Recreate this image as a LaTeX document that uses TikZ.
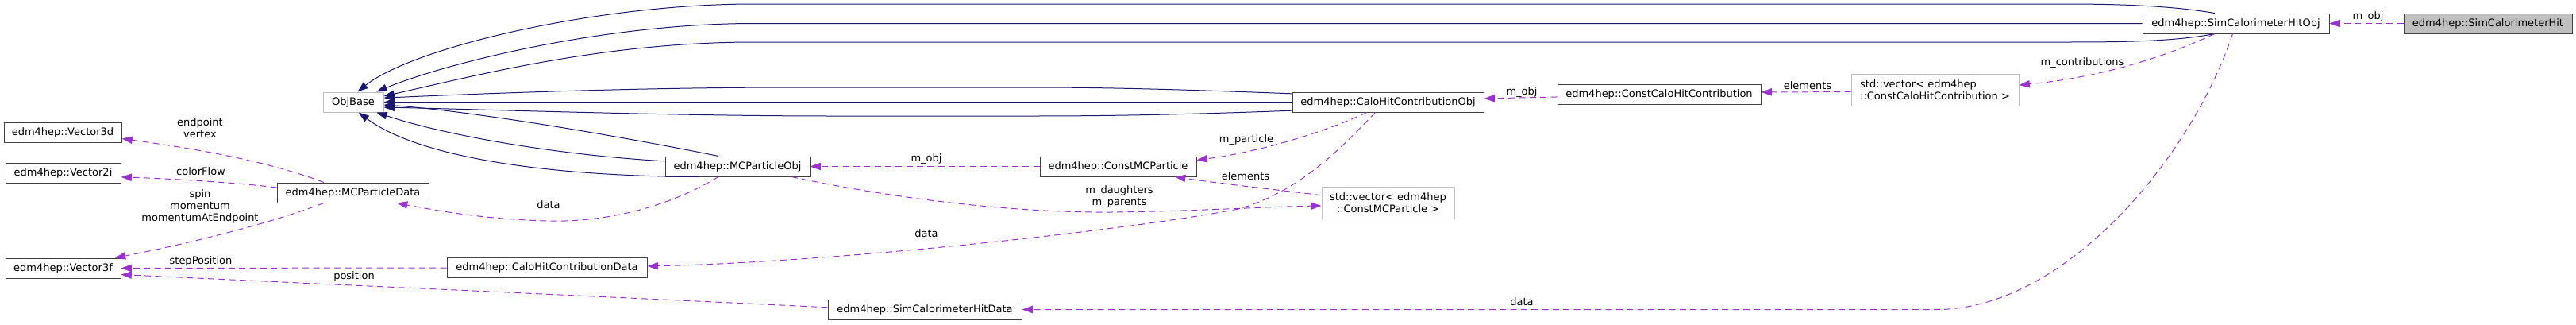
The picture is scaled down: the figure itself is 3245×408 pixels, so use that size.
\documentclass[tikz,border=0pt]{standalone}
\usepackage{fontspec}
\setmainfont{DejaVu Sans}
\usetikzlibrary{arrows.meta,positioning}
\definecolor{inhcol}{HTML}{191970}
\definecolor{usecol}{HTML}{9A32CD}
\definecolor{boxcol}{HTML}{404040}
\definecolor{undoccol}{HTML}{BFBFBF}
\definecolor{curfill}{HTML}{BFBFBF}
\tikzset{
  cls/.style={draw=boxcol, line width=0.75pt, fill=white, inner sep=0pt,
    minimum height=18.75pt, minimum width=#1*0.75pt},
  undoc/.style={cls=#1, draw=undoccol},
  cur/.style={cls=#1, fill=curfill},
  inh/.style={draw=inhcol, line width=0.75pt, -{Triangle[length=10pt,width=7pt]}},
  use/.style={draw=usecol, line width=0.75pt, dash pattern=on 6pt off 4pt,
    -{Triangle[length=10pt,width=7pt]}},
  lbl/.style={inner sep=0pt, align=center}
}
\begin{document}
\begin{tikzpicture}[x=0.75pt, y=-0.75pt, font=\fontsize{9.75}{11.25}\selectfont]
\useasboundingbox (0,0) rectangle (3245,408);

% classes
\node[cur=212] (hit) at (3134,29.5) {edm4hep::SimCalorimeterHit};
\node[undoc=76] (objbase) at (445,128.5) {ObjBase};
\node[undoc=211, minimum height=30pt, align=left] (vecchc) at (2437.5,113) {std::vector< edm4hep\\::ConstCaloHitContribution >};
\node[undoc=167, minimum height=30pt, align=center] (vecmc) at (1748.5,255) {std::vector< edm4hep\\::ConstMCParticle >};
\foreach \n/\x/\y/\w/\t in {
hitobj/2816.5/29.5/235/SimCalorimeterHitObj,
chc/2090/118.5/256/ConstCaloHitContribution,
chcobj/1748.5/128.5/241/CaloHitContributionObj,
cmc/1408.5/209.5/197/ConstMCParticle,
mcobj/929/209.5/182/MCParticleObj,
mcdata/444.5/242.5/191/MCParticleData,
vthreed/79/166.5/148/Vector3d,
vtwoi/79.5/217.5/145/Vector2i,
vthreef/79.5/337.5/145/Vector3f,
chcdata/689/337/252/CaloHitContributionData,
hitdata/1165/389.5/244/SimCalorimeterHitData}
{
    \node[cls=\w] (\n) at (\x,\y) {edm4hep::\t};
}

% inheritance into ObjBase
\draw[inh] ([xshift=-20pt]hitobj.north) .. controls (2740,8) and (2680,5) .. (2600,5) -- (950,5) .. controls (750,5) and (520,60) .. ([xshift=4pt]objbase.north);
\draw[inh] (hitobj.west) -- (950,29.5) .. controls (760,29.5) and (560,80) .. ([xshift=22pt]objbase.north);
\draw[inh] ([xshift=-20pt]hitobj.south) .. controls (2740,52) and (2680,53) .. (2600,53) -- (950,53) .. controls (760,53) and (600,95) .. ([yshift=5.6pt]objbase.east);
\draw[inh] ([yshift=8pt]chcobj.west) .. controls (1500,113) and (1400,110) .. (1300,110) -- (1000,110) .. controls (800,110) and (600,118) .. ([yshift=4pt]objbase.east);
\draw[inh] (chcobj.west) -- (objbase.east);
\draw[inh] ([yshift=-8pt]chcobj.west) .. controls (1500,144) and (1400,146) .. (1300,146) -- (1050,146) .. controls (850,146) and (620,138) .. ([yshift=-4.9pt]objbase.east);
\draw[inh] ([xshift=-18pt]mcobj.north) .. controls (800,175) and (600,140) .. ([yshift=-2.6pt]objbase.east);
\draw[inh] ([yshift=5pt]mcobj.west) .. controls (700,195) and (560,170) .. ([xshift=22pt]objbase.south);
\draw[inh] ([xshift=-37pt]mcobj.south) .. controls (700,222) and (530,200) .. ([xshift=5pt]objbase.south);

% usage
\draw[use] (hit.west) -- (hitobj.east);
\draw[use] ([xshift=-20pt]hitobj.south) .. controls (2720,75) and (2640,98) .. ([yshift=4.5pt]vecchc.east);
\draw[use] ([xshift=-3pt]hitobj.south) .. controls (2760,200) and (2600,389.5) .. (2440,389.5) -- (hitdata.east);
\draw[use] ([yshift=-2pt]vecchc.west) -- ([yshift=2pt]chc.east);
\draw[use] ([yshift=-2.6pt]chc.west) -- ([yshift=3.4pt]chcobj.east);
\draw[use] ([xshift=-20pt]chcobj.south) .. controls (1660,170) and (1580,192) .. ([yshift=6pt]cmc.east);
\draw[use] ([xshift=-12pt]chcobj.south) .. controls (1690,185) and (1640,240) .. (1560,263) .. controls (1420,290) and (1050,330) .. ([yshift=1.5pt]chcdata.east);
\draw[use] ([yshift=7pt]vecmc.west) .. controls (1600,238) and (1530,230) .. ([xshift=53.6pt]cmc.south);
\draw[use] ([xshift=51pt]mcobj.south) .. controls (1150,255) and (1300,268) .. (1400,267) .. controls (1500,266) and (1600,260) .. ([yshift=-3pt]vecmc.west);
\draw[use] (cmc.west) -- (mcobj.east);
\draw[use] ([xshift=-18pt]mcobj.south) .. controls (840,262) and (760,280) .. (690,278) .. controls (610,276) and (550,265) .. ([xshift=41.6pt]mcdata.south);
\draw[use] ([xshift=-27.4pt]mcdata.north) .. controls (330,200) and (230,185) .. ([yshift=-6pt]vthreed.east);
\draw[use] ([yshift=4.9pt]mcdata.west) .. controls (300,230) and (220,225) .. ([yshift=-4pt]vtwoi.east);
\draw[use] ([xshift=-27.4pt]mcdata.south) .. controls (330,285) and (220,310) .. ([xshift=49pt]vthreef.north);
\draw[use] (chcdata.west) -- (vthreef.east);
\draw[use] ([yshift=2pt]hitdata.west) .. controls (800,375) and (350,355) .. ([yshift=-6pt]vthreef.east);

% edge labels
\foreach \n/\x/\y/\t in {
lhit/2983/21/{m\_obj},
lcontrib/2623/79/{m\_contributions},
lhitdata/1917/380/{data},
lelemchc/2277/108/{elements},
lchc/1917/116/{m\_obj},
lpart/1570/176/{m\_particle},
lchcdata/1167/294/{data},
lelemmc/1569/222/{elements},
lrel/1410/248/{m\_daughters\\m\_parents},
lcmc/1167/200/{m\_obj},
lmcdata/691/258/{data},
lvthreed/252/161.5/{endpoint\\vertex},
lvtwoi/253/216/{colorFlow},
lvthreef/252/260/{spin\\momentum\\momentumAtEndpoint},
lstep/253/329/{stepPosition},
lpos/446/348/{position}}
{
    \node[lbl] (\n) at (\x,\y) {\t};
}
\end{tikzpicture}
\end{document}
